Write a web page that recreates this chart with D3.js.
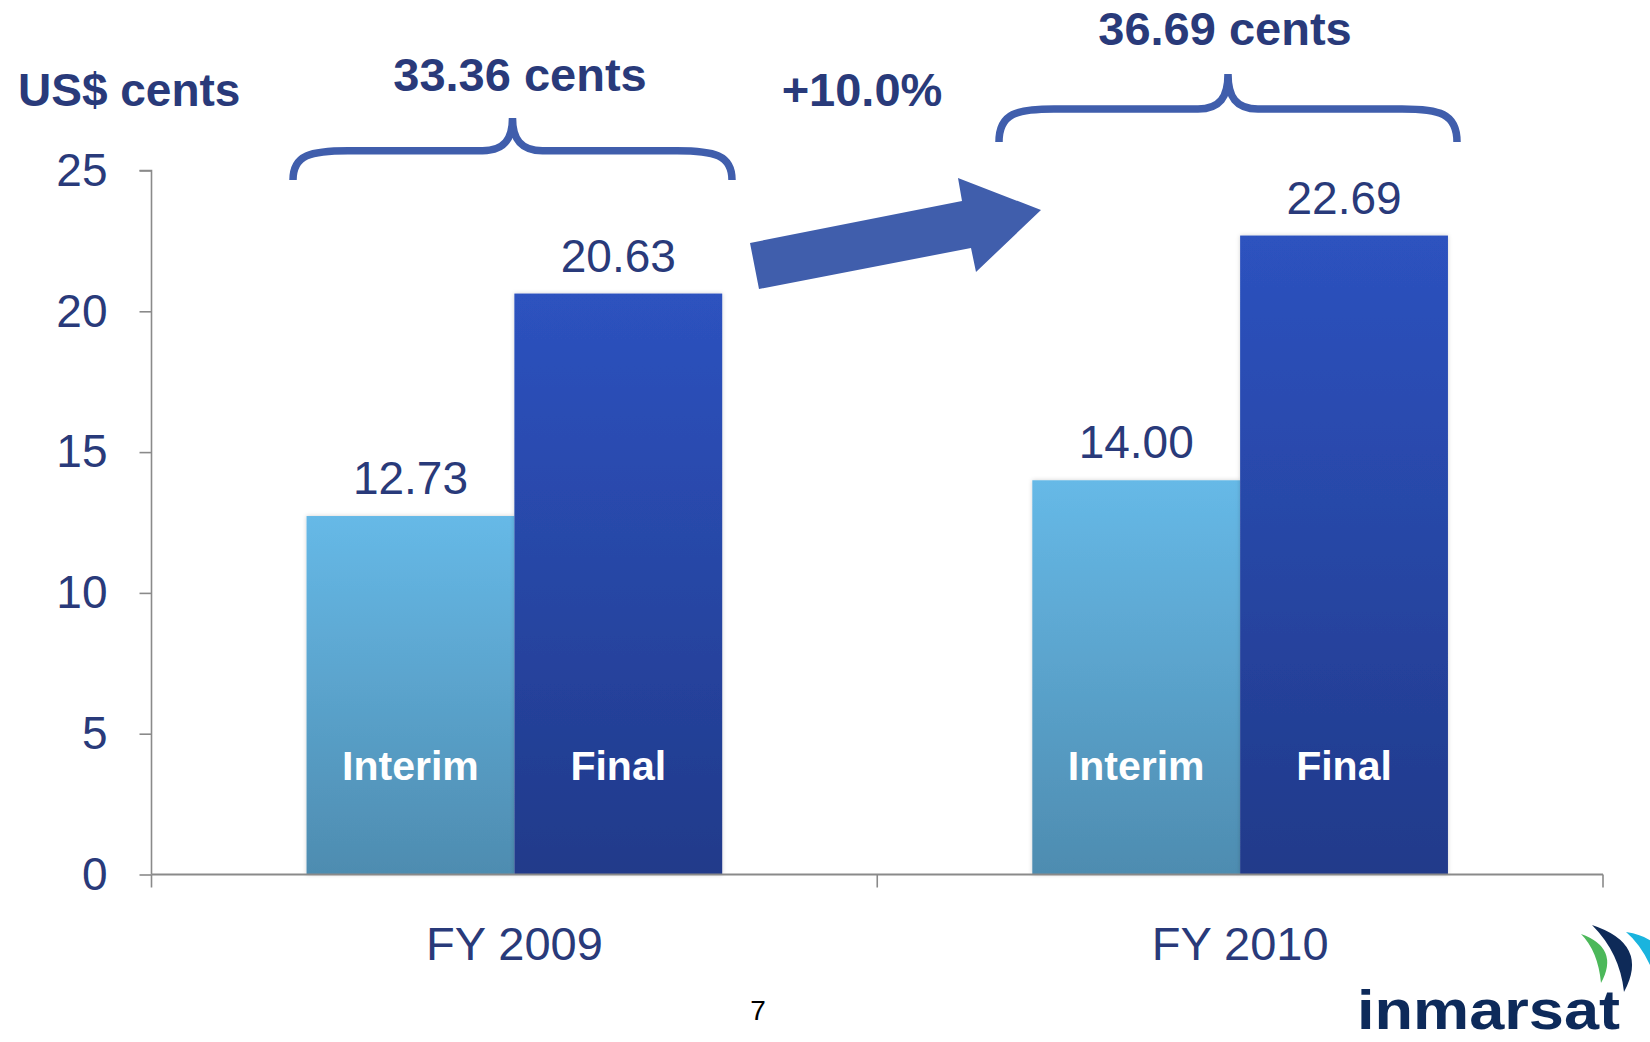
<!DOCTYPE html>
<html>
<head>
<meta charset="utf-8">
<script src="https://cdn.jsdelivr.net/npm/d3@7"></script>
<style>
  html, body { margin: 0; padding: 0; background: #ffffff; }
  svg { display: block; }
  text { font-family: "Liberation Sans", Arial, sans-serif; }
</style>
</head>
<body>
<svg id="chart" width="1650" height="1042"></svg>
<script>
// ---- data ----
const categories = ["FY 2009", "FY 2010"];
const series = ["Interim", "Final"];
const interimValues = [12.73, 14.00];
const finalValues = [20.63, 22.69];
const totalLabels = ["33.36 cents", "36.69 cents"];
const yTickValues = [0, 5, 10, 15, 20, 25];
const unitLabel = "US$ cents";
const growthLabel = "+10.0%";
const pageNumber = "7";

// ---- layout ----
const W = 1650, H = 1042;
const plot = { left: 151.5, right: 1603, top: 170.5, bottom: 874.5 };
const textColor = "#293a7a";
const accent = "#405eac";

const svg = d3.select("#chart");
svg.append("rect").attr("width", W).attr("height", H).attr("fill", "#ffffff");

const y = d3.scaleLinear().domain([0, 25]).range([plot.bottom, plot.top]);
const x = d3.scaleBand().domain(categories).range([plot.left, plot.right]).paddingInner(0).paddingOuter(0);
const xs = d3.scaleBand().domain(series).range([0, x.bandwidth()]).paddingInner(0).paddingOuter(0.746);

// gradients
const defs = svg.append("defs");
const gradStops = {
  Interim: ["#66b9e7", "#4e8cb0"],
  Final: ["#2d52bf", "#213a8a"]
};
series.forEach(s => {
  const g = defs.append("linearGradient").attr("id", "grad-" + s)
    .attr("x1", 0).attr("y1", 0).attr("x2", 0).attr("y2", 1);
  g.append("stop").attr("offset", "0%").attr("stop-color", gradStops[s][0]);
  g.append("stop").attr("offset", "100%").attr("stop-color", gradStops[s][1]);
});
const shadow = defs.append("filter").attr("id", "shadow").attr("x", "-5%").attr("y", "-5%").attr("width", "110%").attr("height", "110%");
shadow.append("feDropShadow").attr("dx", 0).attr("dy", 0).attr("stdDeviation", 2).attr("flood-color", "#000").attr("flood-opacity", 0.18);

// rows
const rows = categories.map((c, i) => ({ cat: c, Interim: interimValues[i], Final: finalValues[i] }));

// y axis
const yAxis = d3.axisLeft(y).tickValues(yTickValues).tickSize(12).tickPadding(32).tickFormat(d3.format("d"));
const gy = svg.append("g").attr("transform", `translate(${plot.left},0)`).call(yAxis);
gy.select(".domain").attr("stroke", "#8a8a8a").attr("stroke-width", 1.6)
  .attr("d", `M-12,${plot.top}H0V${plot.bottom}`);
gy.selectAll(".tick line").attr("stroke", "#8a8a8a").attr("stroke-width", 1.6);
gy.selectAll(".tick text").attr("fill", textColor).attr("font-size", 46)
  .style("font-family", "'Liberation Sans', Arial, sans-serif");

// bars
const groups = svg.append("g").selectAll("g").data(rows).join("g")
  .attr("transform", d => `translate(${x(d.cat)},0)`);
groups.selectAll("rect").data(d => series.map(s => ({ s, v: d[s] }))).join("rect")
  .attr("x", d => xs(d.s))
  .attr("y", d => y(d.v))
  .attr("width", xs.bandwidth())
  .attr("height", d => y(0) - y(d.v))
  .attr("fill", d => `url(#grad-${d.s})`)
  .attr("filter", "url(#shadow)");

// value labels
groups.selectAll("text.val").data(d => series.map(s => ({ s, v: d[s] }))).join("text")
  .attr("class", "val")
  .attr("x", d => xs(d.s) + xs.bandwidth() / 2)
  .attr("y", d => y(d.v) - 22)
  .attr("text-anchor", "middle")
  .attr("font-size", 46)
  .attr("fill", textColor)
  .text(d => d.v.toFixed(2));

// series labels inside bars
groups.selectAll("text.ser").data(series).join("text")
  .attr("class", "ser")
  .attr("x", s => xs(s) + xs.bandwidth() / 2)
  .attr("y", y(0) - 94.5)
  .attr("text-anchor", "middle")
  .attr("font-size", 41)
  .attr("font-weight", "bold")
  .attr("fill", "#ffffff")
  .text(s => s);

// x axis
const xAxis = d3.axisBottom(x).tickSize(0).tickPadding(52);
const gx = svg.append("g").attr("transform", `translate(0,${plot.bottom})`).call(xAxis);
gx.select(".domain").remove();
gx.selectAll(".tick text").attr("fill", textColor).attr("font-size", 47)
  .style("font-family", "'Liberation Sans', Arial, sans-serif");
svg.append("line").attr("x1", plot.left).attr("x2", plot.right)
  .attr("y1", plot.bottom).attr("y2", plot.bottom)
  .attr("stroke", "#8a8a8a").attr("stroke-width", 2.2);
const boundaries = [plot.left, ...categories.map(c => x(c) + x.bandwidth())];
svg.append("g").selectAll("line").data(boundaries).join("line")
  .attr("x1", d => d).attr("x2", d => d)
  .attr("y1", plot.bottom).attr("y2", plot.bottom + 13)
  .attr("stroke", "#8a8a8a").attr("stroke-width", 1.6);

// unit label
svg.append("text").attr("x", 18).attr("y", 106)
  .attr("font-size", 46).attr("font-weight", "bold").attr("fill", textColor).text(unitLabel);

// braces and totals
function bracePath(x0, x1, yBar, yTip, yEnd) {
  const xm = (x0 + x1) / 2;
  return `M${x0},${yEnd} C${x0},${yBar + 4} ${x0 + 18},${yBar} ${x0 + 55},${yBar}` +
    ` L${xm - 30},${yBar} C${xm - 8},${yBar} ${xm},${yBar - 12} ${xm},${yTip}` +
    ` C${xm},${yBar - 12} ${xm + 8},${yBar} ${xm + 30},${yBar}` +
    ` L${x1 - 55},${yBar} C${x1 - 18},${yBar} ${x1},${yBar + 4} ${x1},${yEnd}`;
}
const braces = [
  { x0: 293, x1: 732, yBar: 150.7, yTip: 118, yEnd: 180, tx: 520, ty: 91 },
  { x0: 999, x1: 1457, yBar: 109, yTip: 74, yEnd: 142, tx: 1225, ty: 45 }
];
braces.forEach((b, i) => {
  svg.append("path").attr("d", bracePath(b.x0, b.x1, b.yBar, b.yTip, b.yEnd))
    .attr("fill", "none").attr("stroke", accent).attr("stroke-width", 7.5);
  svg.append("text").attr("x", b.tx).attr("y", b.ty).attr("text-anchor", "middle")
    .attr("font-size", 47).attr("font-weight", "bold").attr("fill", textColor).text(totalLabels[i]);
});

// growth arrow
const arrowPts = [[750, 243], [962, 201], [958, 178], [1041, 210], [976, 272], [971, 248], [759, 289]];
svg.append("path").attr("d", d3.line()(arrowPts) + "Z").attr("fill", accent);
svg.append("text").attr("x", 862).attr("y", 106).attr("text-anchor", "middle")
  .attr("font-size", 47).attr("font-weight", "bold").attr("fill", textColor).text(growthLabel);

// page number
svg.append("text").attr("x", 758).attr("y", 1020).attr("text-anchor", "middle")
  .attr("font-size", 28).attr("fill", "#000000").text(pageNumber);

// logo
const logo = svg.append("g");
function crescent(T, B, co, ci) {
  return `M${T[0]},${T[1]} Q${co[0]},${co[1]} ${B[0]},${B[1]} Q${ci[0]},${ci[1]} ${T[0]},${T[1]}Z`;
}
logo.append("path").attr("d", crescent([1581, 934], [1601, 983], [1620, 948], [1598, 951])).attr("fill", "#4cb85a");
logo.append("path").attr("d", crescent([1592, 925], [1624, 992], [1650, 944], [1620, 953])).attr("fill", "#0e2a58");
logo.append("path").attr("d", crescent([1626, 932], [1662, 1000], [1680, 940], [1650, 952])).attr("fill", "#1ab4de");
logo.append("text").attr("x", 1357).attr("y", 1029)
  .attr("font-size", 56).attr("font-weight", "bold").attr("fill", "#0d2a5a")
  .attr("textLength", 263).attr("lengthAdjust", "spacingAndGlyphs")
  .text("inmarsat");
</script>
</body>
</html>
